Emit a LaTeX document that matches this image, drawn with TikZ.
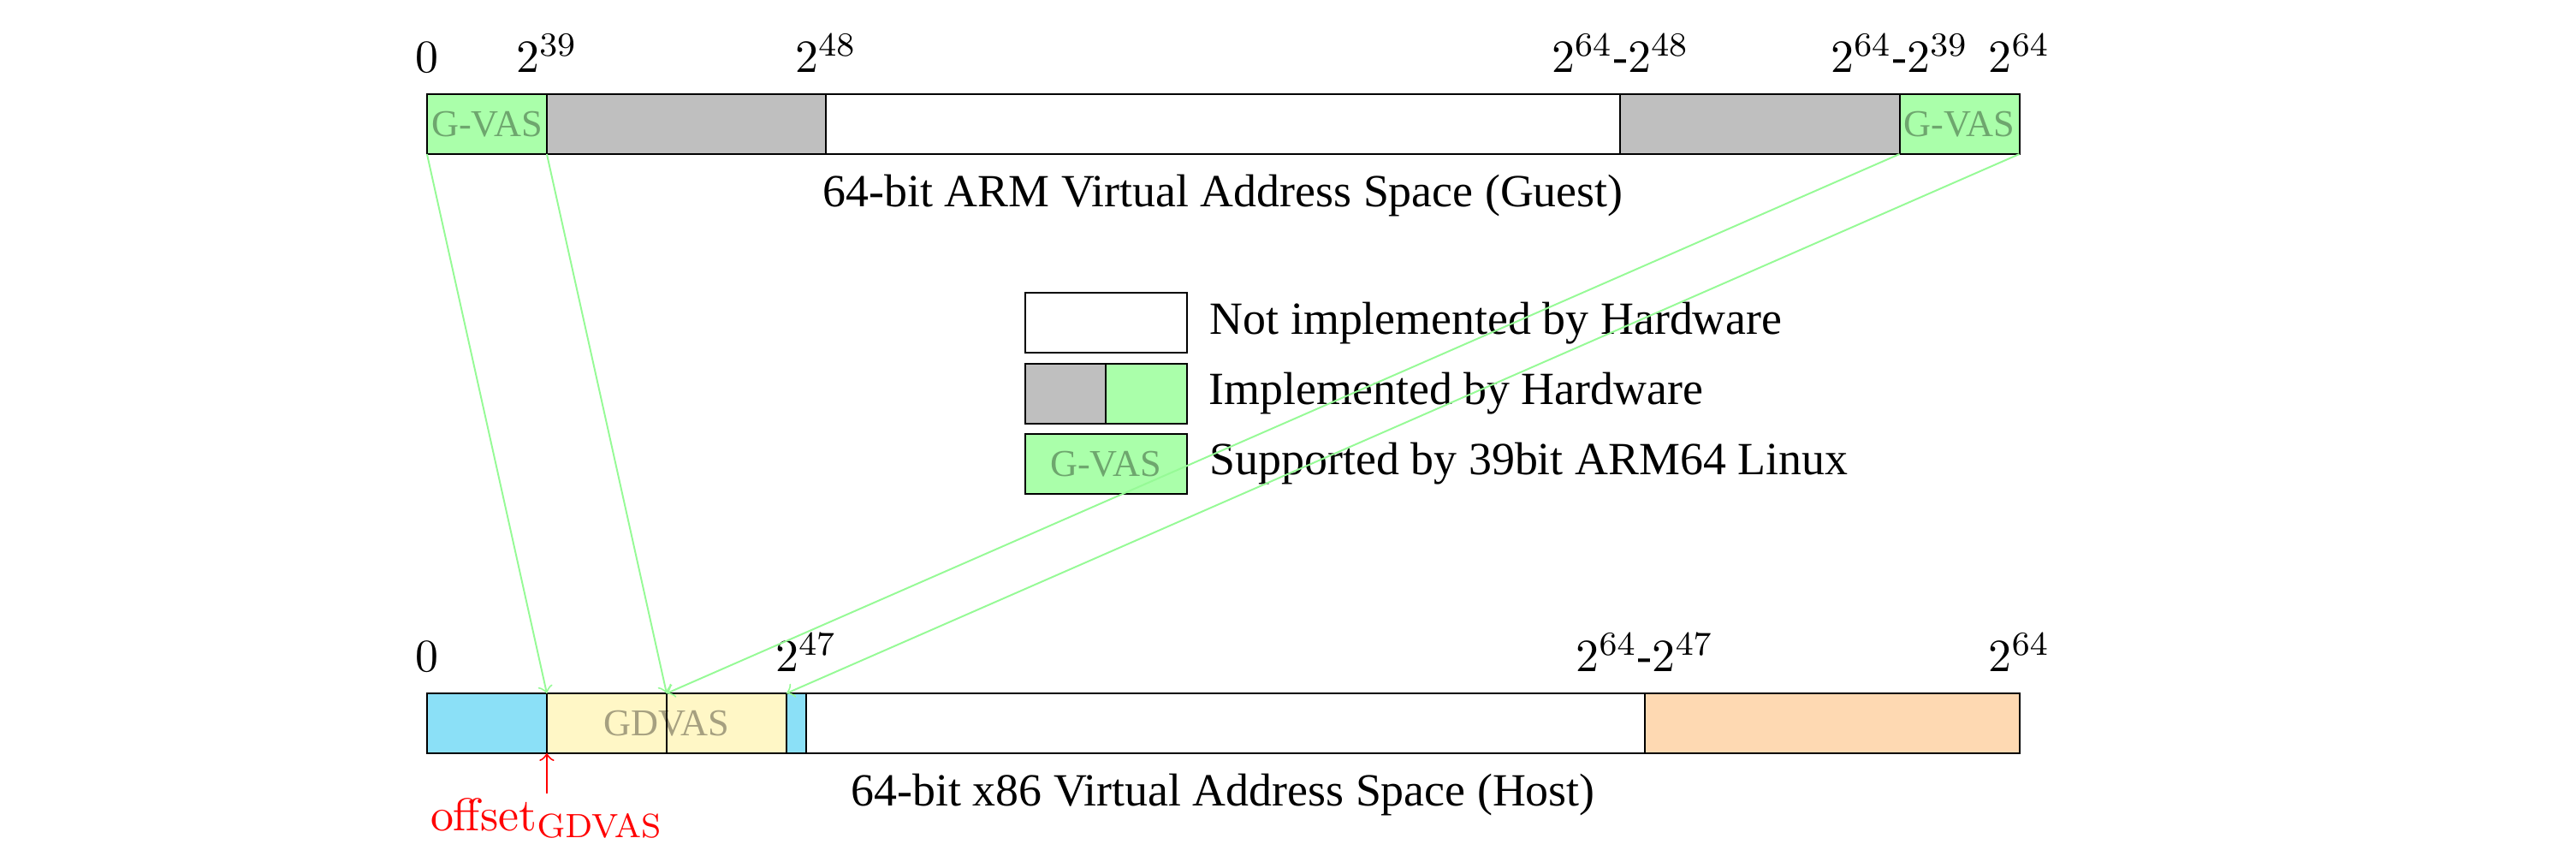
\documentclass[tikz,border=0pt,11pt]{standalone}
\usepackage[no-math]{fontspec}
\setmainfont{Liberation Serif}
\usepackage{amsmath}
\usetikzlibrary{positioning}
\definecolor{gvas}{RGB}{170,255,170}
\definecolor{hwgray}{RGB}{191,191,191}
\definecolor{hostcyan}{RGB}{139,224,247}
\definecolor{gdvas}{RGB}{255,247,198}
\definecolor{hostorange}{RGB}{254,217,178}
\definecolor{maparrow}{RGB}{150,250,150}

\begin{document}
\begin{tikzpicture}[>=to,
  seg/.style={draw,fill=#1},
  fade/.style={text=black,text opacity=0.35,font=\footnotesize},
  bound/.style={above=1.3pt},
  map/.style={->,maparrow}]
\useasboundingbox (-3.564,-0.007) rectangle (17.936,7.036);
% guest address space
\draw[seg=gvas] (0,5.75) rectangle node[fade] (gvaslo) {G-VAS} (1,6.25);
\draw[seg=hwgray] (1,5.75) rectangle (3.33,6.25);
\draw[seg=white] (3.33,5.75) rectangle (9.96,6.25);
\draw[seg=hwgray] (9.96,5.75) rectangle (12.29,6.25);
\draw[seg=gvas] (12.29,5.75) rectangle node[fade] (gvashi) {G-VAS} (13.29,6.25);
\coordinate (g0) at (0,5.75);
\coordinate (g1) at (1,5.75);
\coordinate (g4) at (12.29,5.75);
\coordinate (g5) at (13.29,5.75);
\node[bound] (gl0) at (0,6.25) {$0$};
\node[bound] (gl1) at (1,6.25) {$2^{39}$};
\node[bound] (gl2) at (3.33,6.25) {$2^{48}$};
\node[bound] (gl3) at (9.96,6.25) {$2^{64}$-$2^{48}$};
\node[bound] (gl4) at (12.29,6.25) {$2^{64}$-$2^{39}$};
\node[bound] (gl5) at (13.29,6.25) {$2^{64}$};
\node[below=1pt] (guestcap) at (6.645,5.75) {64-bit ARM Virtual Address Space (Guest)};

% legend
\node[seg=white,minimum width=1.35cm,minimum height=0.5cm,inner sep=0pt] (keyno) at (5.665,4.34) {};
\node[right=1.5pt of keyno] (keynotxt) {Not implemented by Hardware};
\draw[seg=hwgray] (4.99,3.5) rectangle (5.665,4.0);
\draw[seg=gvas] (5.665,3.5) rectangle (6.34,4.0);
\coordinate (keyhw) at (6.34,3.75);
\node[right=1.5pt of keyhw] (keyhwtxt) {Implemented by Hardware};
\node[seg=gvas,minimum width=1.35cm,minimum height=0.5cm,inner sep=0pt] (keygv) at (5.665,3.165) {};
\node[fade] (keygvtxt) at (keygv) {G-VAS};
\node[right=1.5pt of keygv] (keygvlbl) {Supported by 39bit ARM64 Linux};

% host address space
\draw[seg=hostcyan] (0,0.75) rectangle (1,1.25);
\draw[seg=gdvas] (1,0.75) rectangle (2,1.25);
\draw[seg=gdvas] (2,0.75) rectangle (3,1.25);
\node[fade] (gdvastxt) at (2,1) {GDVAS};
\draw[seg=hostcyan] (3,0.75) rectangle (3.164,1.25);
\draw[seg=white] (3.164,0.75) rectangle (10.164,1.25);
\draw[seg=hostorange] (10.164,0.75) rectangle (13.29,1.25);
\coordinate (h1) at (1,1.25);
\coordinate (h2) at (2,1.25);
\coordinate (h3) at (3,1.25);
\coordinate (hb1) at (1,0.75);
\node[bound] (hl0) at (0,1.25) {$0$};
\node[bound] (hl1) at (3.164,1.25) {$2^{47}$};
\node[bound] (hl2) at (10.164,1.25) {$2^{64}$-$2^{47}$};
\node[bound] (hl3) at (13.29,1.25) {$2^{64}$};
\node[below=1pt] (hostcap) at (6.645,0.75) {64-bit x86 Virtual Address Space (Host)};
\node[red,inner sep=1pt,below=0.336cm of hb1] (offs) {$\mathrm{offset}_{\mathrm{GDVAS}}$};
\draw[->,red] (offs) -- (hb1);

% mapping guest -> host
\draw[map] (g0) -- (h1);
\draw[map] (g1) -- (h2);
\draw[map] (g4) -- (h2);
\draw[map] (g5) -- (h3);
\end{tikzpicture}
\end{document}
